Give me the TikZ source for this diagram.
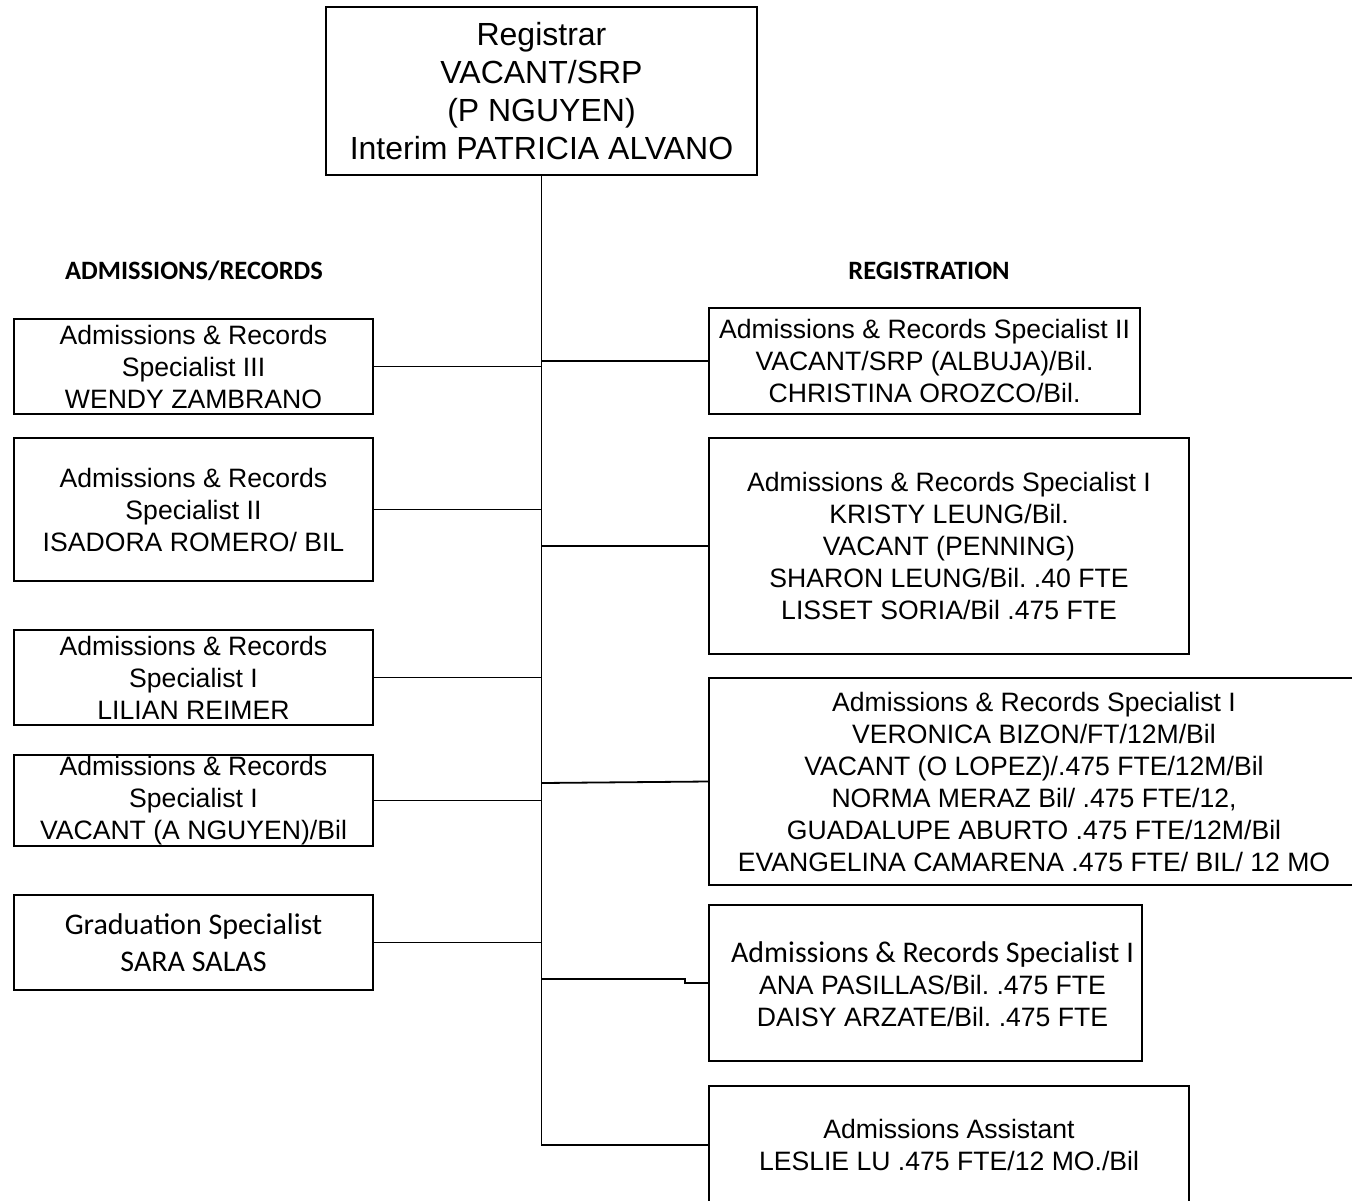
\documentclass[tikz,border=0pt]{standalone}
\usepackage{fontspec}
\setmainfont{Liberation Sans}
\newfontfamily\calib{Carlito}
\usetikzlibrary{calc}
\frenchspacing
\begin{document}
\begin{tikzpicture}[x=1pt,y=-1pt,line width=1.8pt,
  box/.style={draw, rectangle, inner sep=0pt, align=center, font=\fontsize{26.6}{32}\selectfont},
  txt/.style={inner sep=0pt, align=center, font=\fontsize{26.6}{32}\selectfont},
  hdr/.style={inner sep=0pt, font=\calib\bfseries\fontsize{26.5}{30}\selectfont},
  conn/.style={line width=1.8pt}]
\useasboundingbox (0,0) rectangle (1352,1200);
\clip (0,0) rectangle (1352,1200);

% top
\node[box, minimum width=431, minimum height=168, font=\fontsize{32}{38}\selectfont] (top) at (541.5,91)
  {Registrar\\VACANT/SRP\\(P NGUYEN)\\Interim PATRICIA ALVANO};

% headers
\node[hdr] (hA) at (194,271) {ADMISSIONS/RECORDS};
\node[hdr] (hR) at (929,271) {REGISTRATION};

% left column
\node[box, minimum width=359, minimum height=95] (L1) at (193.5,366.5)
  {Admissions \& Records\\Specialist III\\WENDY ZAMBRANO};
\node[box, minimum width=359, minimum height=143] (L2) at (193.5,509.5)
  {Admissions \& Records\\Specialist II\\ISADORA ROMERO/ BIL};
\node[box, minimum width=359, minimum height=95] (L3) at (193.5,677.5)
  {Admissions \& Records\\Specialist I\\LILIAN REIMER};
\node[box, minimum width=359, minimum height=91] (L4) at (193.5,800.5)
  {Admissions \& Records\\Specialist I\\VACANT (A NGUYEN)/Bil};
\node[box, minimum width=359, minimum height=95, font=\calib\fontsize{30}{37}\selectfont] (L5) at (193.5,942.5)
  {Graduation Specialist\\SARA SALAS};

% right column
\node[box, minimum width=431, minimum height=106] (R1) at (924.5,361)
  {Admissions \& Records Specialist II\\VACANT/SRP (ALBUJA)/Bil.\\CHRISTINA OROZCO/Bil.};
\node[box, minimum width=480, minimum height=216] (R2) at (949,546)
  {Admissions \& Records Specialist I\\KRISTY LEUNG/Bil.\\VACANT (PENNING)\\SHARON LEUNG/Bil. .40 FTE\\LISSET SORIA/Bil .475 FTE};
\node[box, minimum width=650, minimum height=207] (R3) at (1034,781.5)
  {Admissions \& Records Specialist I\\VERONICA BIZON/FT/12M/Bil\\VACANT (O LOPEZ)/.475 FTE/12M/Bil\\NORMA MERAZ Bil/ .475 FTE/12,\\GUADALUPE ABURTO .475 FTE/12M/Bil\\EVANGELINA CAMARENA .475 FTE/ BIL/ 12 MO};
\node[box, minimum width=433, minimum height=156] (R4) at (925.5,983) {};
\node[txt] (R4t) at (932.5,984.5)
  {{\calib\fontsize{30}{32.5}\selectfont Admissions \& Records Specialist I}\\ANA PASILLAS/Bil. .475 FTE\\DAISY ARZATE/Bil. .475 FTE};
\node[box, minimum width=480, minimum height=118] (R5) at (949,1145)
  {Admissions Assistant\\LESLIE LU .475 FTE/12 MO./Bil};

% spine and bottom connector
\draw[conn] (top.south) -- (top.south |- R5.west) -- (R5.west);

% left connectors
\foreach \n in {L1,L2,L3,L4,L5}
  \draw[conn] (\n.east) -- (\n.east -| top.south);

% right connectors
\draw[conn] (R1.west -| top.south) -- (R1.west);
\draw[conn] (R2.west -| top.south) -- (R2.west);
\coordinate (r3a) at ($(R3.west -| top.south)+(0,1.5)$);
\draw[conn] (r3a) -- (R3.west);
\coordinate (r4a) at ($(R4.west -| top.south)+(0,-4)$);
\coordinate (r4k) at ($(R4.west)+(-23,0)$);
\draw[conn] (r4a) -| (r4k) -- (R4.west);
\end{tikzpicture}
\end{document}
